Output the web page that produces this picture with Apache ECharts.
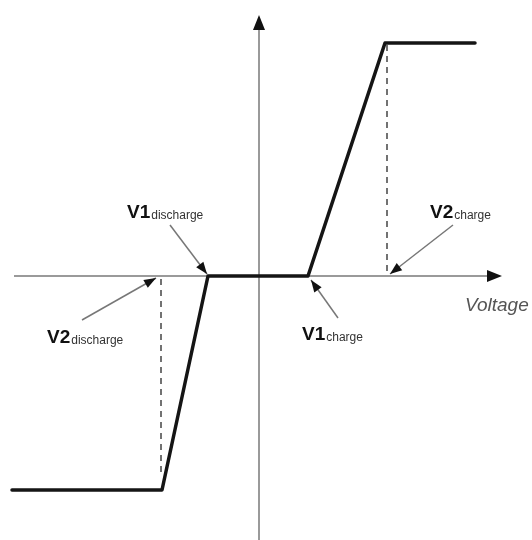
<!DOCTYPE html>
<html>
<head>
<meta charset="utf-8">
<script src="https://cdn.jsdelivr.net/npm/echarts@6/dist/echarts.min.js"></script>
<style>
html, body { margin: 0; padding: 0; background: #fff; }
#chart { width: 532px; height: 540px; }
</style>
</head>
<body>
<div id="chart"></div>
<script>
// plot units are roughly pixels, origin where the two axes cross
var curveX = [-247, -97, -51, 49, 126, 216];
var curveY = [-214, -214, 0, 0, 233, 233];

var guideLeftX = [-98, -98];
var guideLeftY = [-3, -200];
var guideRightX = [128, 128];
var guideRightY = [231, 3];

// axis lines, arrow tip at the second point
var xAxisFrom = [-245, 0], xAxisTo = [243, 0];
var yAxisFrom = [0, -264], yAxisTo = [0, 261];

// pointer arrows for the four thresholds
var pointerFrom = [[-89, 51], [-177, -44], [79, -42], [194, 51]];
var pointerTo = [[-52, 2], [-103, -2], [52, -4], [131, 2]];

var labelMain = ['V1', 'V2', 'V1', 'V2'];
var labelSub = ['discharge', 'discharge', 'charge', 'charge'];
var labelAt = [[-132, 65], [-212, -60], [43, -57], [171, 65]];

var axisTitle = 'Voltage';
var axisTitleAt = [[206, -30]];

var chart = echarts.init(document.getElementById('chart'));

function zip(xs, ys) {
  return xs.map(function (x, i) { return [x, ys[i]]; });
}

// triangle head sitting on the tip, turned along the shaft
function head(from, to, len) {
  var dx = to[0] - from[0], dy = to[1] - from[1];
  var d = Math.sqrt(dx * dx + dy * dy);
  return {
    value: [to[0] - dx / d * len / 2, to[1] - dy / d * len / 2],
    symbolRotate: Math.atan2(dy, dx) * 180 / Math.PI - 90
  };
}

function shaft(from, to, color, width) {
  return {
    type: 'line',
    data: [from, to],
    symbol: 'none',
    silent: true,
    lineStyle: { color: color, width: width },
    z: 2
  };
}

var series = [];

series.push(shaft([xAxisFrom[0], 0], [xAxisTo[0] - 8, 0], '#9a9a9a', 2));
series.push(shaft([0, yAxisFrom[1]], [0, yAxisTo[1] - 8], '#9a9a9a', 2));

pointerFrom.forEach(function (p, i) {
  series.push(shaft(p, pointerTo[i], '#777', 1.5));
});

// arrow heads
series.push({
  type: 'scatter',
  symbol: 'triangle',
  symbolSize: [12, 15],
  silent: true,
  itemStyle: { color: '#111', opacity: 1 },
  data: [head(xAxisFrom, xAxisTo, 15), head(yAxisFrom, yAxisTo, 15)],
  z: 4
});
series.push({
  type: 'scatter',
  symbol: 'triangle',
  symbolSize: [9, 12],
  silent: true,
  itemStyle: { color: '#111', opacity: 1 },
  data: pointerFrom.map(function (p, i) { return head(p, pointerTo[i], 12); }),
  z: 4
});

// dashed guides
series.push({
  type: 'line', data: zip(guideLeftX, guideLeftY), symbol: 'none', silent: true,
  lineStyle: { color: '#444', width: 1.5, type: [6, 5] }, z: 3
});
series.push({
  type: 'line', data: zip(guideRightX, guideRightY), symbol: 'none', silent: true,
  lineStyle: { color: '#444', width: 1.5, type: [6, 5] }, z: 3
});

// characteristic curve
series.push({
  type: 'line', data: zip(curveX, curveY), symbol: 'none', silent: true,
  lineStyle: { color: '#151515', width: 3.5, join: 'round', cap: 'round' }, z: 5
});

// threshold labels
series.push({
  type: 'scatter',
  data: labelAt,
  symbolSize: 0,
  silent: true,
  itemStyle: { opacity: 1 },
  label: {
    show: true,
    position: [0, 0],
    align: 'left',
    verticalAlign: 'middle',
    color: '#111',
    formatter: function (p) {
      return '{v|' + labelMain[p.dataIndex] + '}{s|' + labelSub[p.dataIndex] + '}';
    },
    rich: {
      v: { fontFamily: 'Liberation Sans', fontWeight: 'bold', fontSize: 19, color: '#111', lineHeight: 22, verticalAlign: 'bottom' },
      s: { fontFamily: 'Liberation Sans', fontSize: 12, color: '#333', lineHeight: 14, verticalAlign: 'bottom', padding: [0, 0, 0, 1] }
    }
  },
  z: 6
});

series.push({
  type: 'scatter',
  data: axisTitleAt,
  symbolSize: 0,
  silent: true,
  itemStyle: { opacity: 1 },
  label: {
    show: true,
    position: [0, 0],
    align: 'left',
    verticalAlign: 'middle',
    formatter: axisTitle,
    fontFamily: 'Liberation Sans',
    fontStyle: 'italic',
    fontSize: 19,
    color: '#555'
  },
  z: 6
});

chart.setOption({
  animation: false,
  backgroundColor: '#fff',
  grid: { left: 0, top: 0, width: 532, height: 540 },
  xAxis: { type: 'value', min: -259, max: 273, show: false },
  yAxis: { type: 'value', min: -264, max: 276, show: false },
  series: series
});
</script>
</body>
</html>
